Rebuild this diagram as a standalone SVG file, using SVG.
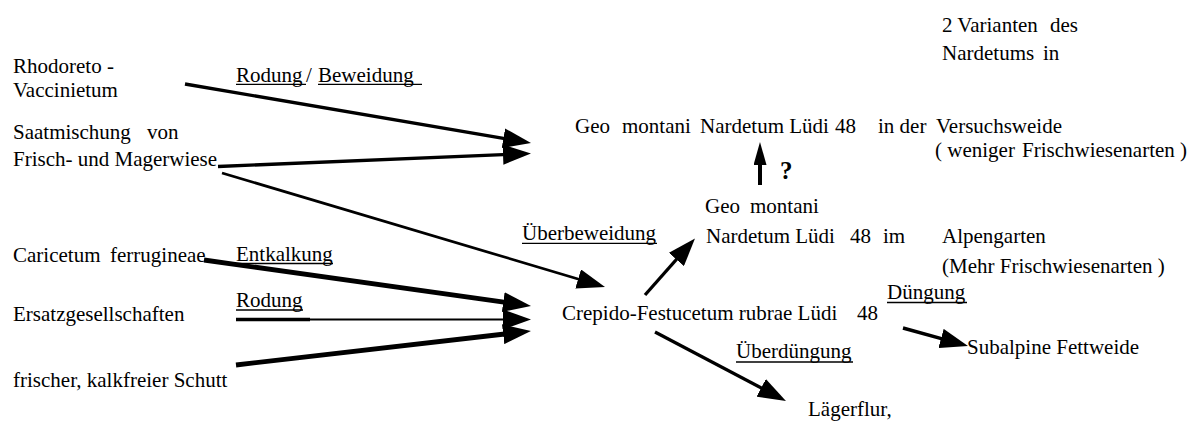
<svg xmlns="http://www.w3.org/2000/svg" width="1196" height="421" viewBox="0 0 1196 421">
  <style>
    text { font-family: 'Liberation Serif', 'Times New Roman', 'DejaVu Serif', serif; font-size: 21px; fill: #000; }
    .q { font-weight: bold; font-size: 25px; }
    .ul { stroke: #000; stroke-width: 1.3; fill: none; }
    .edge { stroke: #000; fill: none; stroke-linecap: butt; marker-end: url(#head); }
    .up { stroke: #000; fill: none; stroke-width: 4; marker-end: url(#headUp); }
  </style>
  <defs>
    <marker id="head" viewBox="0 0 28 20" refX="6" refY="10" markerWidth="28" markerHeight="20" markerUnits="userSpaceOnUse" orient="auto">
      <path d="M0,0 L28,10 L0,20 Z" fill="#000"/>
    </marker>
    <marker id="headUp" viewBox="0 0 23 13" refX="4" refY="6.5" markerWidth="23" markerHeight="13" markerUnits="userSpaceOnUse" orient="auto">
      <path d="M0,0 L23,6.5 L0,13 Z" fill="#000"/>
    </marker>
  </defs>

  <rect width="1196" height="421" fill="#fff"/>

  <g font-family="Liberation Serif, Times New Roman, DejaVu Serif, serif" font-size="21">
  <!-- source communities -->
  <g id="n-rhodoreto">
    <text x="13" y="73">Rhodoreto -</text>
    <text x="13" y="97">Vaccinietum</text>
  </g>
  <g id="n-saatmischung">
    <text x="13" y="139">Saatmischung</text>
    <text x="147" y="139">von</text>
    <text x="13" y="166">Frisch- und Magerwiese</text>
  </g>
  <g id="n-caricetum">
    <text x="13" y="262">Caricetum</text>
    <text x="110" y="262">ferrugineae</text>
  </g>
  <g id="n-ersatz">
    <text x="13" y="321">Ersatzgesellschaften</text>
  </g>
  <g id="n-schutt">
    <text x="13" y="387">frischer, kalkfreier Schutt</text>
  </g>

  <!-- central and resulting communities -->
  <g id="n-geo-versuchsweide">
    <text x="575" y="133">Geo</text>
    <text x="622" y="133">montani</text>
    <text x="700" y="133">Nardetum Lüdi</text>
    <text x="835" y="133">48</text>
    <text x="878" y="133">in der</text>
    <text x="936" y="133">Versuchsweide</text>
    <text x="935" y="157">( weniger</text>
    <text x="1022" y="157">Frischwiesenarten )</text>
  </g>
  <g id="n-varianten">
    <text x="942" y="32">2 Varianten</text>
    <text x="1050" y="32">des</text>
    <text x="942" y="60">Nardetums</text>
    <text x="1043" y="60">in</text>
  </g>
  <g id="n-geo-alpengarten">
    <text x="705" y="213">Geo</text>
    <text x="750" y="213">montani</text>
    <text x="706" y="243">Nardetum Lüdi</text>
    <text x="850" y="243">48</text>
    <text x="883" y="243">im</text>
    <text x="942" y="243">Alpengarten</text>
    <text x="942" y="273">(Mehr Frischwiesenarten )</text>
  </g>
  <g id="n-crepido">
    <text x="562" y="320">Crepido-Festucetum rubrae Lüdi</text>
    <text x="857" y="320">48</text>
  </g>
  <g id="n-fettweide">
    <text x="967" y="354">Subalpine Fettweide</text>
  </g>
  <g id="n-laegerflur">
    <text x="808" y="416">Lägerflur,</text>
  </g>

  <!-- process labels -->
  <g id="labels">
    <text x="236" y="81.5">Rodung</text>
    <text x="306" y="81.5">/</text>
    <text x="318" y="81.5">Beweidung</text>
    <line class="ul" x1="236" y1="84.3" x2="306" y2="84.3"/>
    <line class="ul" x1="318" y1="84.3" x2="422" y2="84.3"/>

    <text x="236" y="260.5">Entkalkung</text>
    <line class="ul" x1="236" y1="263.5" x2="333" y2="263.5"/>

    <text x="236" y="307">Rodung</text>
    <line class="ul" x1="236" y1="310" x2="303" y2="310"/>

    <text x="522" y="240">Überbeweidung</text>
    <line class="ul" x1="522" y1="243.3" x2="657" y2="243.3"/>

    <text x="887" y="298.5">Düngung</text>
    <line class="ul" x1="887" y1="302.5" x2="967" y2="302.5"/>

    <text x="736" y="358">Überdüngung</text>
    <line class="ul" x1="736" y1="362" x2="853" y2="362"/>

    <text class="q" x="780" y="179" font-weight="bold" font-size="25">?</text>
  </g>
  </g>

  <!-- connectors -->
  <g id="connectors">
    <line class="edge" x1="185" y1="84" x2="509.3" y2="139.3" stroke-width="3.3"/>
    <line class="edge" x1="218" y1="166.5" x2="509" y2="154.4" stroke-width="3.3"/>
    <line class="edge" x1="222" y1="173" x2="583.9" y2="280.7" stroke-width="2.7"/>
    <line class="edge" x1="204" y1="260" x2="509.2" y2="302.9" stroke-width="4.8"/>
    <line x1="236" y1="319.5" x2="310" y2="319.5" stroke="#000" stroke-width="3.4"/>
    <line class="edge" x1="236" y1="319.5" x2="509" y2="319.5" stroke-width="2"/>
    <line class="edge" x1="236" y1="365" x2="509.1" y2="333.5" stroke-width="4.8"/>
    <line class="edge" x1="645" y1="295" x2="680.4" y2="255" stroke-width="3.3"/>
    <line class="up" x1="760" y1="185" x2="760" y2="161"/>
    <line class="edge" x1="655" y1="332" x2="766.5" y2="390.7" stroke-width="3.3"/>
    <line class="edge" x1="903" y1="328" x2="946.8" y2="340.1" stroke-width="3.5"/>
  </g>
</svg>
